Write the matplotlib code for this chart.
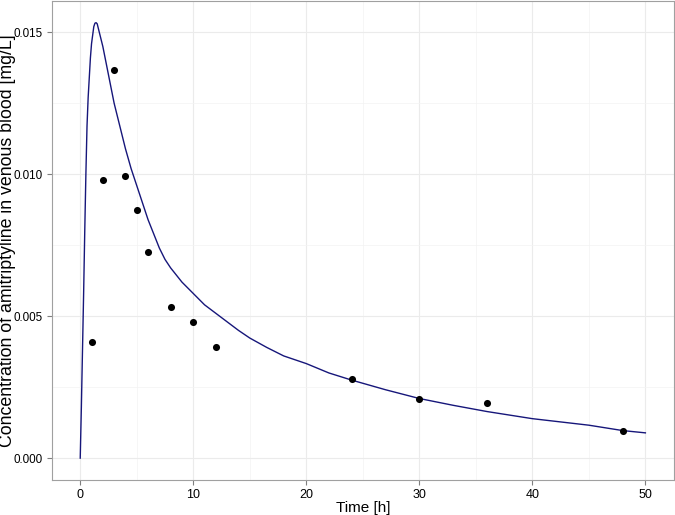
import matplotlib
matplotlib.use("Agg")
import matplotlib.pyplot as plt
from matplotlib.ticker import MultipleLocator, FormatStrFormatter

# Observed concentrations (points)
obs_time = [1, 2, 3, 4, 5, 6, 8, 10, 12, 24, 30, 36, 48]
obs_conc = [0.00409, 0.00980, 0.01368, 0.00993, 0.00875, 0.00725, 0.00534,
            0.00481, 0.00391, 0.00277, 0.00210, 0.00194, 0.00097]

# Model curve
model_time = [0.0, 0.1, 0.2, 0.3, 0.4, 0.5, 0.6, 0.7, 0.8, 0.9, 1.0, 1.1, 1.2,
              1.3, 1.4, 1.5, 1.75, 2.0, 2.25, 2.5, 2.75, 3.0, 3.5, 4.0, 4.5,
              5.0, 5.5, 6.0, 6.5, 7.0, 7.5, 8.0, 9.0, 10.0, 11.0, 12.0, 13.0,
              14.0, 15.0, 16.5, 18.0, 20.0, 22.0, 24.0, 27.0, 30.0, 33.0, 36.0,
              40.0, 45.0, 48.0, 50.0]
model_conc = [0.0, 0.0018, 0.0038, 0.0058, 0.0080, 0.0100, 0.0117, 0.0127,
              0.0134, 0.0141, 0.0146, 0.0149, 0.0152, 0.01532, 0.01534, 0.0153,
              0.0149, 0.0145, 0.0140, 0.0135, 0.0130, 0.0125, 0.0117, 0.0109,
              0.0102, 0.0096, 0.0090, 0.0084, 0.0079, 0.0074, 0.0070, 0.0067,
              0.0062, 0.0058, 0.0054, 0.0051, 0.0048, 0.0045, 0.00423, 0.0039,
              0.0036, 0.00333, 0.0030, 0.00275, 0.00241, 0.00210, 0.00186,
              0.00164, 0.00139, 0.00116, 0.00097, 0.00089]

plt.rcParams['font.family'] = ['Liberation Sans', 'DejaVu Sans']

fig = plt.figure(figsize=(6.75, 5.15), dpi=100)
ax = fig.add_axes([0.077, 0.068, 0.921, 0.931])

ax.plot(model_time, model_conc, color='#16167a', linewidth=1.0, zorder=3)
ax.scatter(obs_time, obs_conc, s=26, color='black', zorder=4, linewidths=0)

ax.set_xlim(-2.5, 52.5)
ax.set_ylim(-0.00077, 0.01612)
ax.xaxis.set_major_locator(MultipleLocator(10))
ax.xaxis.set_minor_locator(MultipleLocator(5))
ax.yaxis.set_major_locator(MultipleLocator(0.005))
ax.yaxis.set_minor_locator(MultipleLocator(0.0025))
ax.yaxis.set_major_formatter(FormatStrFormatter('%.3f'))

ax.grid(True, which='major', color='#ebebeb', linewidth=0.8)
ax.grid(True, which='minor', color='#f3f3f3', linewidth=0.5)
ax.set_axisbelow(True)
for s in ax.spines.values():
    s.set_color('#a0a0a0')
    s.set_linewidth(0.8)
ax.tick_params(which='major', length=3.5, color='#7f7f7f', labelcolor='black')
ax.tick_params(axis='y', which='major', labelsize=8.4, pad=3)
ax.tick_params(axis='x', which='major', labelsize=9, pad=3)
ax.tick_params(which='minor', length=0)

ax.set_xlabel("Time [h]", fontsize=11, va='center')
ax.set_ylabel("Concentration of amitriptyline in venous blood [mg/L]",
              fontsize=12.8, va='center')
ax.xaxis.set_label_coords(0.5, -0.058)
ax.yaxis.set_label_coords(-0.072, 0.5)

plt.savefig("out.png", dpi=100)
